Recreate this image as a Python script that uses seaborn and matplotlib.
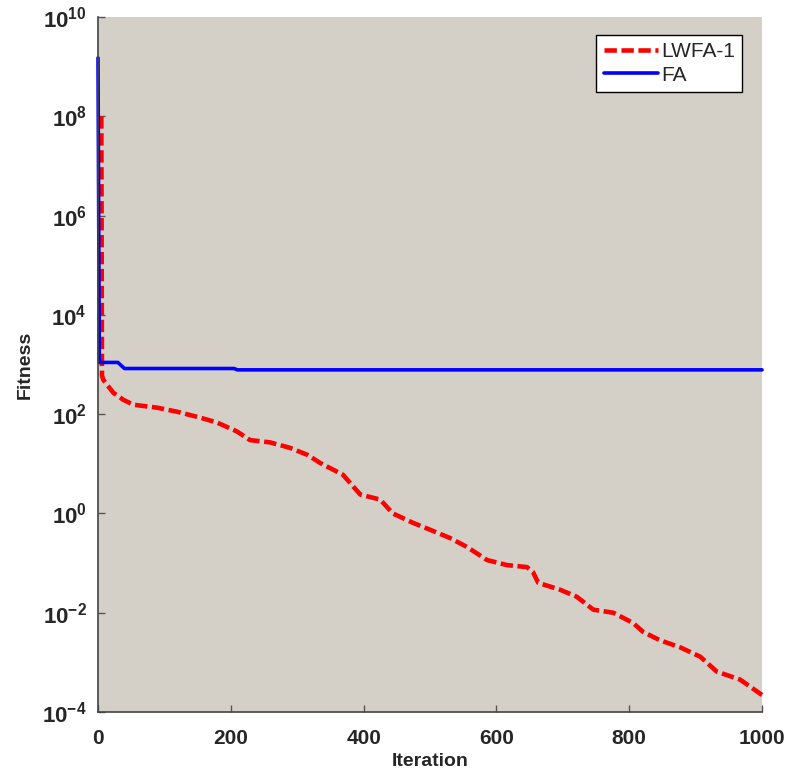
import numpy as np
import pandas as pd
import matplotlib
matplotlib.use("Agg")
import matplotlib.pyplot as plt
import seaborn as sns

# --- data ---
fa_iter = [0, 2, 30, 35, 40, 205, 210, 1000]
fa_fit = [1.5e9, 1100, 1100, 950, 830, 830, 780, 780]

lw_iter = [5, 6, 8, 23, 38, 53, 89, 119, 154, 179, 209, 229, 259, 289, 316,
           334, 369, 395, 425, 444, 474, 500, 530, 556, 586, 616, 646, 655,
           663, 696, 721, 746, 776, 806, 821, 846, 877, 907, 932, 967, 1000]
lw_fit = [1e8, 600, 490, 270, 195, 155, 135, 112, 85, 68, 45, 30, 27, 21, 15,
          10.5, 6, 2.4, 1.9, 1.0, 0.65, 0.47, 0.32, 0.21, 0.115, 0.091, 0.083, 0.066,
          0.04, 0.029, 0.021, 0.0115, 0.01, 0.0062, 0.0041, 0.0028, 0.002, 0.0013,
          6.5e-4, 4.5e-4, 2.2e-4]

x_ticks = [0, 200, 400, 600, 800, 1000]
y_exps = [-4, -2, 0, 2, 4, 6, 8, 10]
series_names = ["LWFA-1", "FA"]

df_lw = pd.DataFrame({"Iteration": lw_iter, "Fitness": lw_fit})
df_fa = pd.DataFrame({"Iteration": fa_iter, "Fitness": fa_fit})

sns.set_style("ticks", {"axes.facecolor": "#d4d0c8"})
plt.rcParams["font.family"] = ["Liberation Sans", "DejaVu Sans"]
plt.rcParams["mathtext.default"] = "regular"
plt.rcParams["axes.unicode_minus"] = False
plt.rcParams["xtick.direction"] = "in"
plt.rcParams["ytick.direction"] = "in"

fig = plt.figure(figsize=(7.86, 7.76), dpi=100)
ax = fig.add_axes([98 / 786, 1 - 712 / 776, (762 - 98) / 786, (712 - 17) / 776])
ax.set_facecolor("#d4d0c8")

sns.lineplot(data=df_lw, x="Iteration", y="Fitness", ax=ax, color="#ff0000",
             linewidth=3.3, label=series_names[0])
ax.lines[-1].set_dashes((2.7, 1.0))
ax.lines[-1].set_clip_on(False)
sns.lineplot(data=df_fa, x="Iteration", y="Fitness", ax=ax, color="#0000ff",
             linewidth=2.6, label=series_names[1])
ax.lines[-1].set_clip_on(False)

ax.set_yscale("log")
ax.set_xlim(0, 1000)
ax.set_ylim(1e-4, 1e10)
ax.set_xticks(x_ticks)
ax.set_xticklabels([str(t) for t in x_ticks], fontsize=15, fontweight="bold")
ax.set_yticks([10.0 ** e for e in y_exps])
ax.set_yticklabels([r"$10^{%d}$" % e for e in y_exps], fontsize=16, fontweight="bold")
ax.yaxis.set_minor_locator(matplotlib.ticker.NullLocator())
ax.tick_params(axis="both", length=5, width=1, color="#555555", pad=8)
ax.tick_params(axis="x", pad=12)

for s in ["top", "right"]:
    ax.spines[s].set_visible(False)
for s in ["left", "bottom"]:
    ax.spines[s].set_color("#444444")
    ax.spines[s].set_linewidth(1.2)

ax.set_xlabel("Iteration", fontsize=14, fontweight="bold", labelpad=4)
ax.set_ylabel("Fitness", fontsize=14, fontweight="bold", labelpad=6)

leg = ax.legend(loc="upper right", bbox_to_anchor=(0.970, 0.974), fontsize=15,
                frameon=True, fancybox=False, handlelength=2.6, handletextpad=0.15,
                borderpad=0.35, labelspacing=0.2, borderaxespad=0)
leg.get_frame().set_edgecolor("black")
leg.get_frame().set_linewidth(1.0)
leg.get_frame().set_facecolor("white")
leg.get_frame().set_alpha(1.0)

fig.savefig("out.png", dpi=100)
